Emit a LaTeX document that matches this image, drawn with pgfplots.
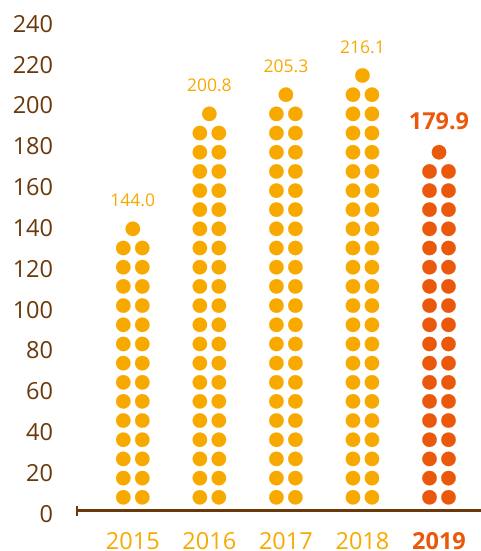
\documentclass[border=0pt]{standalone}
\usepackage{pgfplots}
\pgfplotsset{compat=1.18}
\usepackage{pgfplotstable}
\usepackage{fontspec}
\setmainfont{Open Sans}
\definecolor{amber}{RGB}{247,169,0}
\definecolor{hot}{RGB}{234,88,12}
\definecolor{brn}{RGB}{107,56,10}

% rows of dot pairs (x = year index, y = row centre)
\pgfplotstableread[row sep=\\]{
x y\\
0 7.2\\ 0 16.6\\ 0 26.0\\ 0 35.4\\ 0 44.8\\ 0 54.2\\ 0 63.5\\ 0 72.9\\ 0 82.3\\ 0 91.7\\ 0 101.1\\ 0 110.5\\ 0 119.9\\ 0 129.3\\
1 7.2\\ 1 16.6\\ 1 26.0\\ 1 35.4\\ 1 44.8\\ 1 54.2\\ 1 63.5\\ 1 72.9\\ 1 82.3\\ 1 91.7\\ 1 101.1\\ 1 110.5\\ 1 119.9\\ 1 129.3\\ 1 138.7\\ 1 148.1\\ 1 157.4\\ 1 166.8\\ 1 176.2\\ 1 185.6\\
2 7.2\\ 2 16.6\\ 2 26.0\\ 2 35.4\\ 2 44.8\\ 2 54.2\\ 2 63.5\\ 2 72.9\\ 2 82.3\\ 2 91.7\\ 2 101.1\\ 2 110.5\\ 2 119.9\\ 2 129.3\\ 2 138.7\\ 2 148.1\\ 2 157.4\\ 2 166.8\\ 2 176.2\\ 2 185.6\\ 2 195.0\\
3 7.2\\ 3 16.6\\ 3 26.0\\ 3 35.4\\ 3 44.8\\ 3 54.2\\ 3 63.5\\ 3 72.9\\ 3 82.3\\ 3 91.7\\ 3 101.1\\ 3 110.5\\ 3 119.9\\ 3 129.3\\ 3 138.7\\ 3 148.1\\ 3 157.4\\ 3 166.8\\ 3 176.2\\ 3 185.6\\ 3 195.0\\ 3 204.4\\
}\dotsA
\pgfplotstableread[row sep=\\]{
x y\\
4 7.2\\ 4 16.6\\ 4 26.0\\ 4 35.4\\ 4 44.8\\ 4 54.2\\ 4 63.5\\ 4 72.9\\ 4 82.3\\ 4 91.7\\ 4 101.1\\ 4 110.5\\ 4 119.9\\ 4 129.3\\ 4 138.7\\ 4 148.1\\ 4 157.4\\ 4 166.8\\
}\dotsB
% top single dot and the year's value
\pgfplotstableread[row sep=\\]{
x y v\\
0 138.7 144.0\\
1 195.0 200.8\\
2 204.4 205.3\\
3 213.8 216.1\\
}\topA
\pgfplotstableread[row sep=\\]{
x y v\\
4 176.2 179.9\\
}\topB

\begin{document}
\begin{tikzpicture}
\path[use as bounding box] (0,0) rectangle (481pt,551pt);
\begin{axis}[
  at={(77pt,39pt)}, anchor=south west,
  x=76.55pt, y=2.0417pt,
  xmin=-0.729, xmax=4.549, ymin=0, ymax=245,
  clip=false,
  axis line style={draw=none},
  major tick length=0pt,
  /pgf/number format/assume math mode=true,
  ytick={0,20,...,240},
  yticklabel style={anchor=east, inner sep=0pt, xshift=-23.7pt, yshift=-1.8pt,
    text=brn, font=\fontsize{23.5}{28}\selectfont},
  xtick={0,1,2,3,4},
  xticklabels={2015,2016,2017,2018,{\textcolor{hot}{\bfseries 2019}}},
  xticklabel style={anchor=base, inner sep=0pt, yshift=-37pt,
    text=amber, font=\fontsize{23.5}{28}\selectfont},
]
\addplot[amber, only marks, mark=*, mark size=7.2pt, mark options={draw=amber, fill=amber, line width=0.2pt}]
  table[x expr=\thisrow{x}-0.124, y=y] {\dotsA};
\addplot[amber, only marks, mark=*, mark size=7.2pt, mark options={draw=amber, fill=amber, line width=0.2pt}]
  table[x expr=\thisrow{x}+0.124, y=y] {\dotsA};
\addplot[hot, only marks, mark=*, mark size=7.2pt, mark options={draw=hot, fill=hot, line width=0.2pt}]
  table[x expr=\thisrow{x}-0.124, y=y] {\dotsB};
\addplot[hot, only marks, mark=*, mark size=7.2pt, mark options={draw=hot, fill=hot, line width=0.2pt}]
  table[x expr=\thisrow{x}+0.124, y=y] {\dotsB};
\addplot[amber, only marks, mark=*, mark size=7.2pt, mark options={draw=amber, fill=amber, line width=0.2pt},
  point meta=explicit symbolic, nodes near coords,
  every node near coord/.append style={anchor=south, inner sep=0pt, yshift=22pt,
    text=amber, font=\fontsize{17.5}{21}\selectfont}]
  table[x=x, y=y, meta=v] {\topA};
\addplot[hot, only marks, mark=*, mark size=7.2pt, mark options={draw=hot, fill=hot, line width=0.2pt},
  point meta=explicit symbolic, nodes near coords,
  every node near coord/.append style={anchor=south, inner sep=0pt, yshift=22pt,
    text=hot, font=\fontsize{23.4}{28}\selectfont\bfseries}]
  table[x=x, y=y, meta=v] {\topB};
\draw[brn, line width=2.7pt] (axis cs:-0.729,0.7) -- (axis cs:4.6,0.7);
\draw[brn, line width=2.7pt] (axis cs:-0.729,3.15) -- (axis cs:-0.729,-1.75);
\end{axis}
\end{tikzpicture}
\end{document}
